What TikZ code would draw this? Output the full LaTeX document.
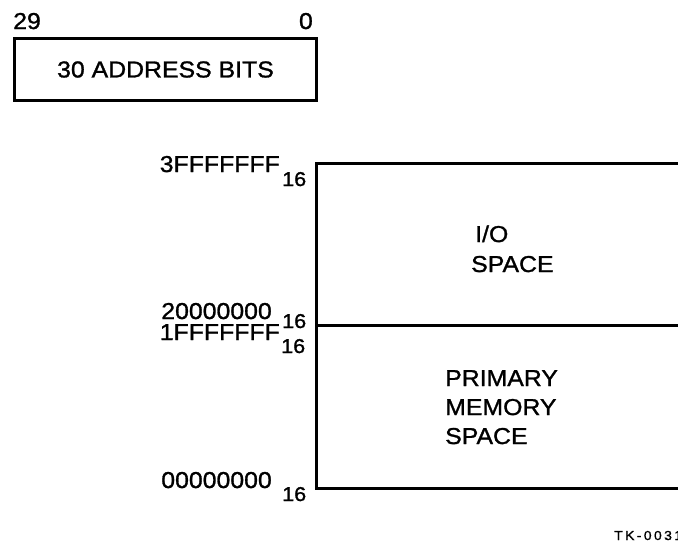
\documentclass[tikz,border=0pt]{standalone}
\usepackage{fontspec}
\setmainfont{Liberation Sans}[FakeStretch=1.08,FakeBold=1.2]
\begin{document}
\begin{tikzpicture}[x=1pt,y=-1pt,
  lbl/.style={inner sep=0pt, font=\fontsize{23}{26}\selectfont},
  sub/.style={inner sep=0pt, font=\fontsize{20}{23}\selectfont},
  frame/.style={draw, line width=3pt, inner sep=0pt, anchor=north west}]
\clip (0,0) rectangle (678,542);
% address bits box
\node[frame, minimum width=302pt, minimum height=62pt, font=\fontsize{23}{26}\selectfont] (addr) at (13,37) {30 ADDRESS BITS};
\node[lbl, anchor=base west] (b29) at (13,29) {29};
\node[lbl, anchor=base east] (b0) at (313,29) {0};
% memory map
\node[frame, minimum width=375pt, minimum height=162pt] (io) at (315,162) {};
\node[frame, minimum width=375pt, minimum height=163pt] (mem) at (315,324) {};
\node[lbl, anchor=base west] (iot1) at (475,242) {I/O};
\node[lbl, anchor=base west] (iot2) at (471,272) {SPACE};
\node[lbl, anchor=base west] (memt1) at (445,386) {PRIMARY};
\node[lbl, anchor=base west] (memt2) at (445,415) {MEMORY};
\node[lbl, anchor=base west] (memt3) at (445,444) {SPACE};
% address labels
\node[lbl, anchor=base east] (a3f) at (280,172) {3FFFFFFF};
\node[sub, anchor=base west] (a3fs) at (282,186) {16};
\node[lbl, anchor=base east] (a20) at (272,319) {20000000};
\node[sub, anchor=base west] (a20s) at (282,328) {16};
\node[lbl, anchor=base east] (a1f) at (280,340) {1FFFFFFF};
\node[sub, anchor=base west] (a1fs) at (281,353) {16};
\node[lbl, anchor=base east] (a00) at (272,488) {00000000};
\node[sub, anchor=base west] (a00s) at (282,501) {16};
% figure tag
\node[inner sep=0pt, anchor=base west, font=\fontsize{13}{15}\addfontfeatures{LetterSpace=18}\selectfont] (tk) at (614,540) {TK-0031};
\end{tikzpicture}
\end{document}
